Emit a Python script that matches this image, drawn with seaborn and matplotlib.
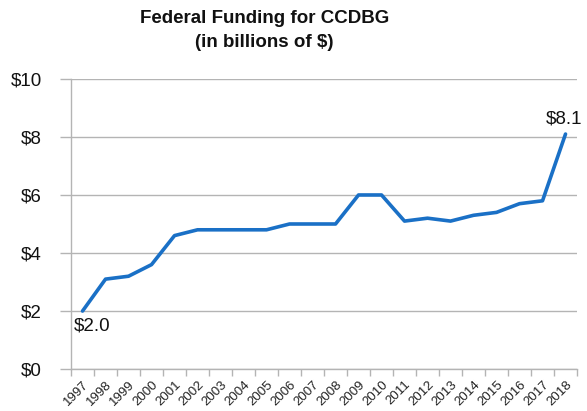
import matplotlib
matplotlib.use("Agg")
import matplotlib.pyplot as plt
import seaborn as sns
import pandas as pd
from matplotlib.ticker import FixedLocator, FuncFormatter

years = [str(y) for y in range(1997, 2019)]
funding = [2.0, 3.1, 3.2, 3.6, 4.6, 4.8, 4.8, 4.8, 4.8, 5.0, 5.0,
           5.0, 6.0, 6.0, 5.1, 5.2, 5.1, 5.3, 5.4, 5.7, 5.8, 8.1]
y_ticks = [0, 2, 4, 6, 8, 10]

df = pd.DataFrame({"year": years, "funding": funding})

sns.set_theme(style="white")
plt.rcParams["font.family"] = ["Liberation Sans", "DejaVu Sans"]

fig = plt.figure(figsize=(5.87, 4.11), dpi=100)
ax = fig.add_axes([0.121, 0.102, 0.862, 0.706])

sns.lineplot(data=df, x="year", y="funding", ax=ax, color="#1a70c6",
             linewidth=2.6, sort=False)

n = len(years)
ax.set_xlim(-0.5, n - 0.5)
ax.set_ylim(0, 10)

grid_c = "#b4b4b4"
ax.set_yticks(y_ticks)
ax.yaxis.set_major_formatter(FuncFormatter(lambda v, p: f"${v:.0f}"))
ax.yaxis.grid(True, color=grid_c, linewidth=1.0)
ax.set_axisbelow(True)

# category labels centred, tick marks between categories
ax.set_xticks(range(n))
ax.set_xticklabels(years, rotation=45, ha="right", rotation_mode="anchor",
                   fontsize=9.5, color="#222222")
ax.xaxis.set_minor_locator(FixedLocator([i - 0.5 for i in range(n + 1)]))
ax.tick_params(axis="x", which="major", length=0, pad=7)
ax.tick_params(axis="x", which="minor", length=5, width=1, color=grid_c,
               direction="out", bottom=True)
ax.tick_params(axis="y", length=8, width=1, color=grid_c, direction="out",
               left=True, labelsize=13.5, pad=13, labelcolor="#111111")

for side in ["top", "right"]:
    ax.spines[side].set_visible(False)
for side in ["left", "bottom"]:
    ax.spines[side].set_color(grid_c)
    ax.spines[side].set_linewidth(1.0)

ax.set_xlabel("")
ax.set_ylabel("")

ax.annotate(f"${funding[0]:.1f}", (0, funding[0]), xytext=(7, -5),
            textcoords="offset points", ha="center", va="top", fontsize=13.5,
            color="#111111")
ax.annotate(f"${funding[-1]:.1f}", (n - 1, funding[-1]), xytext=(-1, 5),
            textcoords="offset points", ha="center", va="bottom",
            fontsize=13.5, color="#111111")

fig.text(0.45, 0.975, "Federal Funding for CCDBG\n(in billions of $)",
         ha="center", va="top", fontsize=13.5, fontweight="bold",
         linespacing=1.55, color="#111111")

fig.savefig("out.png", dpi=100)
